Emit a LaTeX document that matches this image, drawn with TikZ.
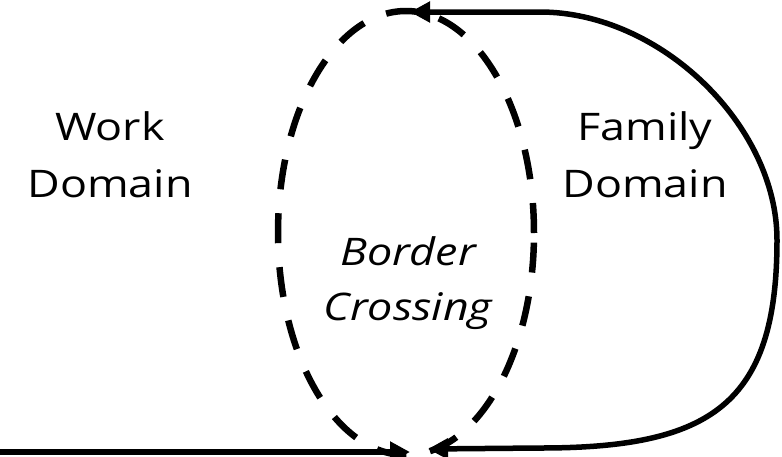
\documentclass[tikz,border=0pt]{standalone}
\usepackage{fontspec}
\setmainfont[FakeStretch=1.18]{Open Sans}
\usetikzlibrary{shapes.geometric,arrows.meta}
\begin{document}
\begin{tikzpicture}[x=1pt, y=-1pt,
    domaintext/.style={align=center, font=\fontsize{38}{57}\selectfont},
    crossring/.style={draw, ellipse, dash pattern=on 30pt off 24pt, line width=6.5pt, minimum width=256pt, minimum height=444pt, inner sep=0pt},
    link/.style={line width=5.5pt, arrows={-Triangle[length=20pt,width=20pt]}}]
    \useasboundingbox (0,0) rectangle (782,456);
    % Labels
    \node[domaintext] (work) at (110,155) {Work\\Domain};
    \node[domaintext] (family) at (645,155) {Family\\Domain};
    \node[domaintext, font=\fontsize{38}{55}\selectfont\itshape] (border) at (408,283) {Border\\Crossing};
    
    % Border
    \node[crossring] (cross) at (406,233) {};
    
    % Ends
    \coordinate (workin) at (0,452);
    \coordinate (crossbot) at (410,452);
    \coordinate (famtop) at (410,12);
    \coordinate (fambot) at (428,449);
    
    % Connections
    \draw[link] (workin) -- (crossbot);
    \draw[link, arrows={Triangle[length=20pt,width=20pt]-Triangle[length=20pt,width=20pt]}] (famtop) -- (540,12) .. controls (660,12) and (777,125) .. (777,240) .. controls (777,405) and (710,448) .. (540,448) -- (fambot);
\end{tikzpicture}
\end{document}
